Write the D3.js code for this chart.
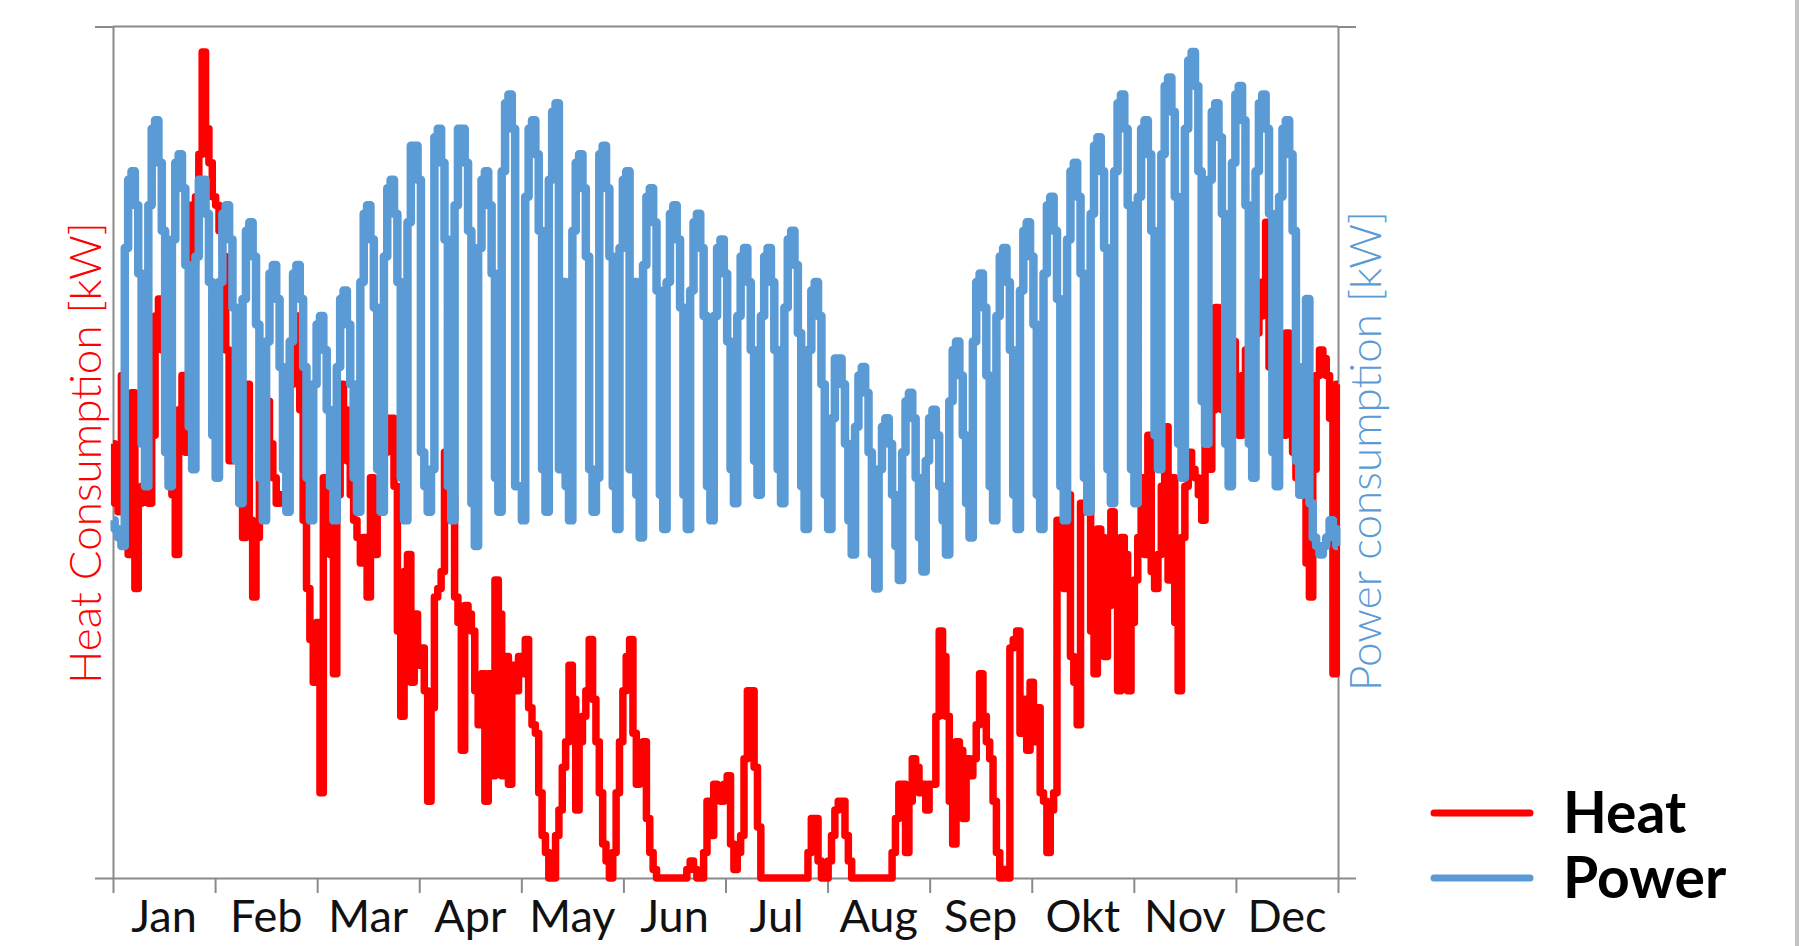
<!DOCTYPE html>
<html>
<head>
<meta charset="utf-8">
<script src="https://cdn.jsdelivr.net/npm/d3@7"></script>
<style>
  html, body { margin: 0; padding: 0; background: #fff; overflow: hidden; }
  svg { display: block; }
</style>
</head>
<body>
<svg id="chart" width="1806" height="946"></svg>
<script>
// Month labels along the x axis
const months = ["Jan", "Feb", "Mar", "Apr", "May", "Jun", "Jul", "Aug", "Sep", "Okt", "Nov", "Dec"];

// Daily heat consumption [kW], Jan 1 .. Dec 31
const heat = [
  51, 44, 43, 59, 40, 38, 57, 34, 44, 46,
  45, 44, 52, 66, 68, 62, 57, 47, 45, 38,
  55, 59, 50, 79, 72, 80, 85, 97, 88, 84,
  80, 79, 76, 73, 62, 49, 58, 49, 55, 40,
  58, 42, 33, 40, 50, 53, 56, 51, 47, 44,
  45, 44, 50, 58, 62, 66, 55, 42, 34, 28,
  23, 30, 10, 47, 45, 38, 24, 45, 58, 55,
  49, 45, 42, 40, 37, 40, 33, 47, 38, 43,
  45, 50, 54, 54, 46, 29, 19, 36, 38, 23,
  31, 25, 27, 22, 9, 20, 33, 34, 36, 50,
  42, 45, 33, 30, 15, 32, 31, 29, 22, 18,
  24, 9, 24, 12, 35, 31, 12, 26, 11, 25,
  22, 26, 24, 28, 20, 18, 17, 10, 5, 3,
  0, 0, 5, 8, 13, 16, 25, 21, 8, 16,
  19, 22, 28, 21, 16, 10, 4, 2, 0, 3,
  10, 16, 22, 26, 28, 17, 11, 15, 16, 7,
  3, 1, 0, 0, 0, 0, 0, 0, 0, 0,
  0, 1, 2, 1, 0, 0, 3, 9, 5, 11,
  10, 9, 11, 12, 4, 1, 3, 5, 14, 22,
  22, 13, 6, 0, 0, 0, 0, 0, 0, 0,
  0, 0, 0, 0, 0, 0, 0, 3, 7, 7,
  2, 0, 0, 2, 5, 8, 9, 9, 5, 2,
  0, 0, 0, 0, 0, 0, 0, 0, 0, 0,
  0, 0, 3, 7, 11, 11, 3, 9, 14, 13,
  10, 11, 8, 11, 11, 19, 29, 26, 19, 9,
  4, 16, 15, 7, 14, 12, 14, 18, 24, 19,
  16, 14, 9, 3, 0, 1, 0, 27, 28, 29,
  17, 21, 15, 23, 16, 20, 10, 9, 3, 8,
  10, 42, 42, 34, 45, 26, 23, 18, 44, 43,
  48, 29, 24, 41, 40, 26, 32, 43, 36, 22,
  40, 38, 22, 30, 35, 40, 47, 38, 52, 36,
  34, 38, 46, 53, 35, 47, 30, 22, 40, 46,
  50, 48, 47, 45, 42, 51, 48, 55, 67, 62,
  55, 56, 57, 63, 58, 52, 59, 62, 61, 63,
  64, 66, 70, 77, 60, 70, 76, 59, 52, 64,
  55, 50, 47, 46, 46, 37, 33, 48, 59, 62,
  61, 59, 54, 24, 58
];

// Daily power consumption [kW]; first four days (Thu..Sun), then Mon..Sun weeks
const power = [
  42, 41, 40, 39,
  74, 82, 83, 79, 71, 51, 46,
  79, 88, 89, 84, 76, 50, 46,
  75, 84, 85, 81, 72, 53, 48,
  73, 82, 82, 78, 70, 52, 47,
  70, 78, 79, 75, 67, 49, 44,
  68, 76, 77, 73, 65, 47, 42,
  63, 71, 72, 68, 60, 48, 43,
  63, 71, 72, 68, 60, 47, 42,
  58, 65, 66, 62, 55, 46, 42,
  60, 68, 69, 65, 58, 47, 43,
  70, 78, 79, 75, 67, 48, 43,
  73, 81, 82, 78, 70, 47, 42,
  77, 86, 86, 82, 50, 46, 43,
  48, 87, 88, 84, 75, 46, 42,
  79, 88, 88, 84, 76, 44, 39,
  74, 82, 83, 79, 71, 47, 43,
  83, 91, 92, 88, 46, 46, 42,
  80, 88, 89, 85, 76, 48, 43,
  82, 90, 91, 48, 70, 46, 42,
  76, 84, 85, 81, 73, 48, 43,
  47, 85, 86, 81, 73, 46, 41,
  74, 82, 83, 48, 70, 45, 40,
  72, 80, 81, 77, 69, 45, 41,
  70, 78, 79, 75, 67, 45, 41,
  69, 77, 78, 74, 66, 46, 42,
  66, 74, 75, 71, 63, 48, 44,
  66, 73, 74, 70, 62, 49, 45,
  66, 73, 74, 70, 62, 48, 44,
  67, 75, 76, 72, 64, 46, 41,
  62, 69, 70, 66, 58, 45, 41,
  54, 61, 61, 58, 51, 42, 38,
  53, 59, 60, 57, 50, 38, 34,
  48, 53, 54, 51, 45, 39, 35,
  50, 56, 57, 54, 47, 40, 36,
  49, 54, 55, 52, 46, 42, 38,
  56, 62, 63, 59, 52, 44, 40,
  63, 70, 71, 67, 59, 46, 42,
  66, 73, 74, 70, 62, 45, 41,
  69, 76, 77, 73, 65, 45, 41,
  71, 79, 80, 76, 68, 46, 42,
  75, 83, 84, 80, 71, 47, 43,
  78, 86, 87, 83, 74, 48, 44,
  83, 91, 92, 88, 79, 48, 44,
  80, 88, 89, 85, 76, 52, 48,
  85, 93, 94, 90, 80, 51, 47,
  88, 96, 97, 93, 83, 56, 51,
  82, 90, 91, 87, 78, 51, 46,
  84, 92, 93, 89, 79, 51, 47,
  83, 91, 92, 88, 78, 50, 46,
  80, 88, 89, 85, 76, 49, 45,
  60, 68, 44, 40, 39, 38, 39,
  40, 42, 41, 39
];

const seriesNames = ["Heat", "Power"];
const seriesColors = ["#ff0000", "#5b9bd5"];
const axisTitles = ["Heat Consumption [kW]", "Power consumption [kW]"];

const svg = d3.select("#chart");
const W = 1806, H = 946;
const plot = { left: 113, right: 1338, top: 26.5, bottom: 878 };
const axisColor = "#8a8a8a";

// Scales
const x = d3.scaleLinear().domain([0, heat.length - 1]).range([plot.left, plot.right]);
const yHeat = d3.scaleLinear().domain([0, 100]).range([plot.bottom, plot.top]);
const yPower = d3.scaleLinear().domain([0, 100]).range([plot.bottom, plot.top]);
const xMonth = d3.scaleBand().domain(months).range([plot.left, plot.right]).padding(0);
const xEdge = d3.scaleLinear().domain([0, months.length]).range([plot.left, plot.right]);

// Outer frame on the right edge
svg.append("line")
  .attr("x1", 1797).attr("x2", 1797).attr("y1", 0).attr("y2", H)
  .attr("stroke", "#c4c4c4").attr("stroke-width", 4);

// Top gridline
svg.append("line")
  .attr("x1", plot.left).attr("x2", plot.right)
  .attr("y1", yHeat(100)).attr("y2", yHeat(100))
  .attr("stroke", axisColor).attr("stroke-width", 2);

function styleAxis(g) {
  g.selectAll("path, line").attr("stroke", axisColor).attr("stroke-width", 2);
  g.selectAll("text").remove();
}

// Left (heat) axis
svg.append("g")
  .attr("transform", `translate(${plot.left},0)`)
  .call(d3.axisLeft(yHeat).tickValues([0, 100]).tickSize(18).tickSizeOuter(0).tickFormat(""))
  .call(styleAxis);

// Right (power) axis
svg.append("g")
  .attr("transform", `translate(${plot.right},0)`)
  .call(d3.axisRight(yPower).tickValues([0, 100]).tickSize(18).tickSizeOuter(0).tickFormat(""))
  .call(styleAxis);

// Bottom axis: month boundary ticks
svg.append("g")
  .attr("transform", `translate(0,${plot.bottom})`)
  .call(d3.axisBottom(xEdge).tickValues(d3.range(months.length + 1)).tickSize(15).tickSizeOuter(0).tickFormat(""))
  .call(styleAxis);

// Bottom axis: month names centred in each month
const monthAxis = svg.append("g")
  .attr("transform", `translate(0,${plot.bottom})`)
  .call(d3.axisBottom(xMonth).tickSize(0).tickSizeOuter(0));
monthAxis.select(".domain").remove();
monthAxis.selectAll("text")
  .attr("y", 54).attr("dy", null)
  .attr("fill", "#111")
  .style("font-family", "Lato, 'Open Sans', sans-serif")
  .style("font-size", "45px");

// Series lines (daily values drawn as steps)
const heatLine = d3.line().curve(d3.curveStep).x((d, i) => x(i)).y(d => yHeat(d));
const powerLine = d3.line().curve(d3.curveStep).x((d, i) => x(i)).y(d => yPower(d));

svg.append("path")
  .datum(heat)
  .attr("d", heatLine)
  .attr("fill", "none")
  .attr("stroke", seriesColors[0])
  .attr("stroke-width", 7.5)
  .attr("stroke-linejoin", "round");

svg.append("path")
  .datum(power)
  .attr("d", powerLine)
  .attr("fill", "none")
  .attr("stroke", seriesColors[1])
  .attr("stroke-width", 8.5)
  .attr("stroke-linejoin", "round");

// Axis titles
const titleFont = "Lato, 'Open Sans', sans-serif";
svg.append("text")
  .attr("transform", "translate(101,453) rotate(-90)")
  .attr("text-anchor", "middle")
  .attr("fill", seriesColors[0])
  .style("font-family", titleFont)
  .style("font-weight", 300)
  .style("font-size", "44px")
  .text(axisTitles[0]);

svg.append("text")
  .attr("transform", "translate(1381,451) rotate(-90)")
  .attr("text-anchor", "middle")
  .attr("fill", seriesColors[1])
  .style("font-family", titleFont)
  .style("font-weight", 300)
  .style("font-size", "44px")
  .text(axisTitles[1]);

// Legend
const legend = svg.append("g");
const legendY = [813, 878];
seriesNames.forEach((name, i) => {
  legend.append("line")
    .attr("x1", 1434).attr("x2", 1530)
    .attr("y1", legendY[i]).attr("y2", legendY[i])
    .attr("stroke", seriesColors[i])
    .attr("stroke-width", 7)
    .attr("stroke-linecap", "round");
  legend.append("text")
    .attr("x", 1563).attr("y", legendY[i] + 20)
    .attr("fill", "#000")
    .style("font-family", titleFont)
    .style("font-weight", 700)
    .style("font-size", "57px")
    .text(name);
});
</script>
</body>
</html>
